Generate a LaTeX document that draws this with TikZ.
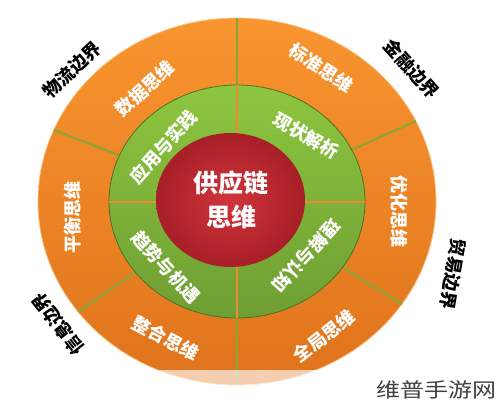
\documentclass[tikz,border=0pt]{standalone}
\usepackage{fontspec}
\newfontfamily\cjk{Noto Sans CJK SC}
\usetikzlibrary{calc}
\definecolor{orT}{HTML}{F8952F}
\definecolor{orB}{HTML}{E0731C}
\definecolor{grT}{HTML}{8DC63F}
\definecolor{grB}{HTML}{6F9E33}
\definecolor{rdI}{HTML}{D2353B}
\definecolor{rdO}{HTML}{A71F27}
\definecolor{olive}{HTML}{86A636}
\definecolor{orline}{HTML}{EE8A30}
\tikzset{
  ringtext/.style={text=white,font=\cjk\bfseries\fontsize{18}{20}\selectfont,inner sep=0pt},
  outtext/.style={text=black,font=\cjk\bfseries\fontsize{18}{20}\selectfont,inner sep=0pt},
  centertext/.style={text=white,font=\cjk\bfseries\fontsize{25}{34}\selectfont,align=center,inner sep=0pt},
  divO/.style={olive,line width=2pt},
  divG/.style={orline,line width=2pt}
}
\begin{document}
\begin{tikzpicture}[x=1pt,y=1pt]
\useasboundingbox (0,0) rectangle (500,412);
\coordinate (C) at (237,210.5);
\coordinate (R) at (230.5,212);
% outer ring
\shade[top color=orT,bottom color=orB] (C) ellipse [x radius=199,y radius=183.5];
\draw[orT!60!white,line width=0.8pt] (C) ellipse [x radius=199,y radius=183.5];
% outer dividers
\coordinate (o1) at ($(C)+({199*cos(157)},{183.5*sin(157)})$);
\coordinate (o2) at ($(C)+({199*cos(26)},{183.5*sin(26)})$);
\coordinate (o3) at ($(C)+({199*cos(217)},{183.5*sin(217)})$);
\coordinate (o4) at ($(C)+({199*cos(-34)},{183.5*sin(-34)})$);
\coordinate (ot) at ($(C)+(0,183.5)$);
\coordinate (ob) at ($(C)+(0,-183.5)$);
\draw[divO] (C) -- (o1);
\draw[divO] (C) -- (o2);
\draw[divO] (C) -- (o3);
\draw[divO] (C) -- (o4);
\draw[divO] (ot) -- (ob);
% green ring
\shade[top color=grT,bottom color=grB] (C) ellipse [x radius=128,y radius=116.5];
\draw[grB!70!black,line width=0.8pt] (C) ellipse [x radius=128,y radius=116.5];
\coordinate (gt) at ($(C)+(0,116.5)$);
\coordinate (gb) at ($(C)+(0,-116.5)$);
\coordinate (gl) at (109,210);
\coordinate (gr) at (365,210);
\draw[divG] (gt) -- (gb);
\draw[divG] (gl) -- (gr);
% red centre
\shade[inner color=rdI,outer color=rdO] (R) ellipse [x radius=74.5,y radius=67];
\node[centertext] (core) at (231,212) {供应链\\思维};
% outer ring labels
\node[ringtext,rotate=42] (t1) at (145,324) {数据思维};
\node[ringtext,rotate=-34] (t2) at (321,344) {标准思维};
\node[ringtext,rotate=90] (t3) at (73,194) {平衡思维};
\node[ringtext,rotate=-90] (t4) at (399,200) {优化思维};
\node[ringtext,rotate=-28] (t5) at (166,74) {整合思维};
\node[ringtext,rotate=38] (t6) at (324,76) {全局思维};
% green ring labels
\node[ringtext,rotate=48] (g1) at (163,265) {应用与实践};
\node[ringtext,rotate=-30] (g2) at (306,276) {现状解析};
\node[ringtext,rotate=-48] (g3) at (166,145) {趋势与机遇};
\node[ringtext,rotate=228] (g4) at (306,156) {理解与认知};
% outside labels
\node[outtext,rotate=43] (b1) at (72,342) {物流边界};
\node[outtext,rotate=-48] (b2) at (412,343) {金融边界};
\node[outtext,rotate=-100] (b3) at (453,138) {贸易边界};
\node[outtext,rotate=128] (b4) at (58,88) {信息边界};
% bottom fade
\fill[white,opacity=0.65] (0,0) rectangle (500,42);
\fill[white] (0,0) rectangle (500,20);
% watermark
\node[text=black!75,font=\cjk\fontsize{20}{22}\selectfont,xscale=1.2,inner sep=0pt] (wm) at (436,22) {维普手游网};
\end{tikzpicture}
\end{document}
